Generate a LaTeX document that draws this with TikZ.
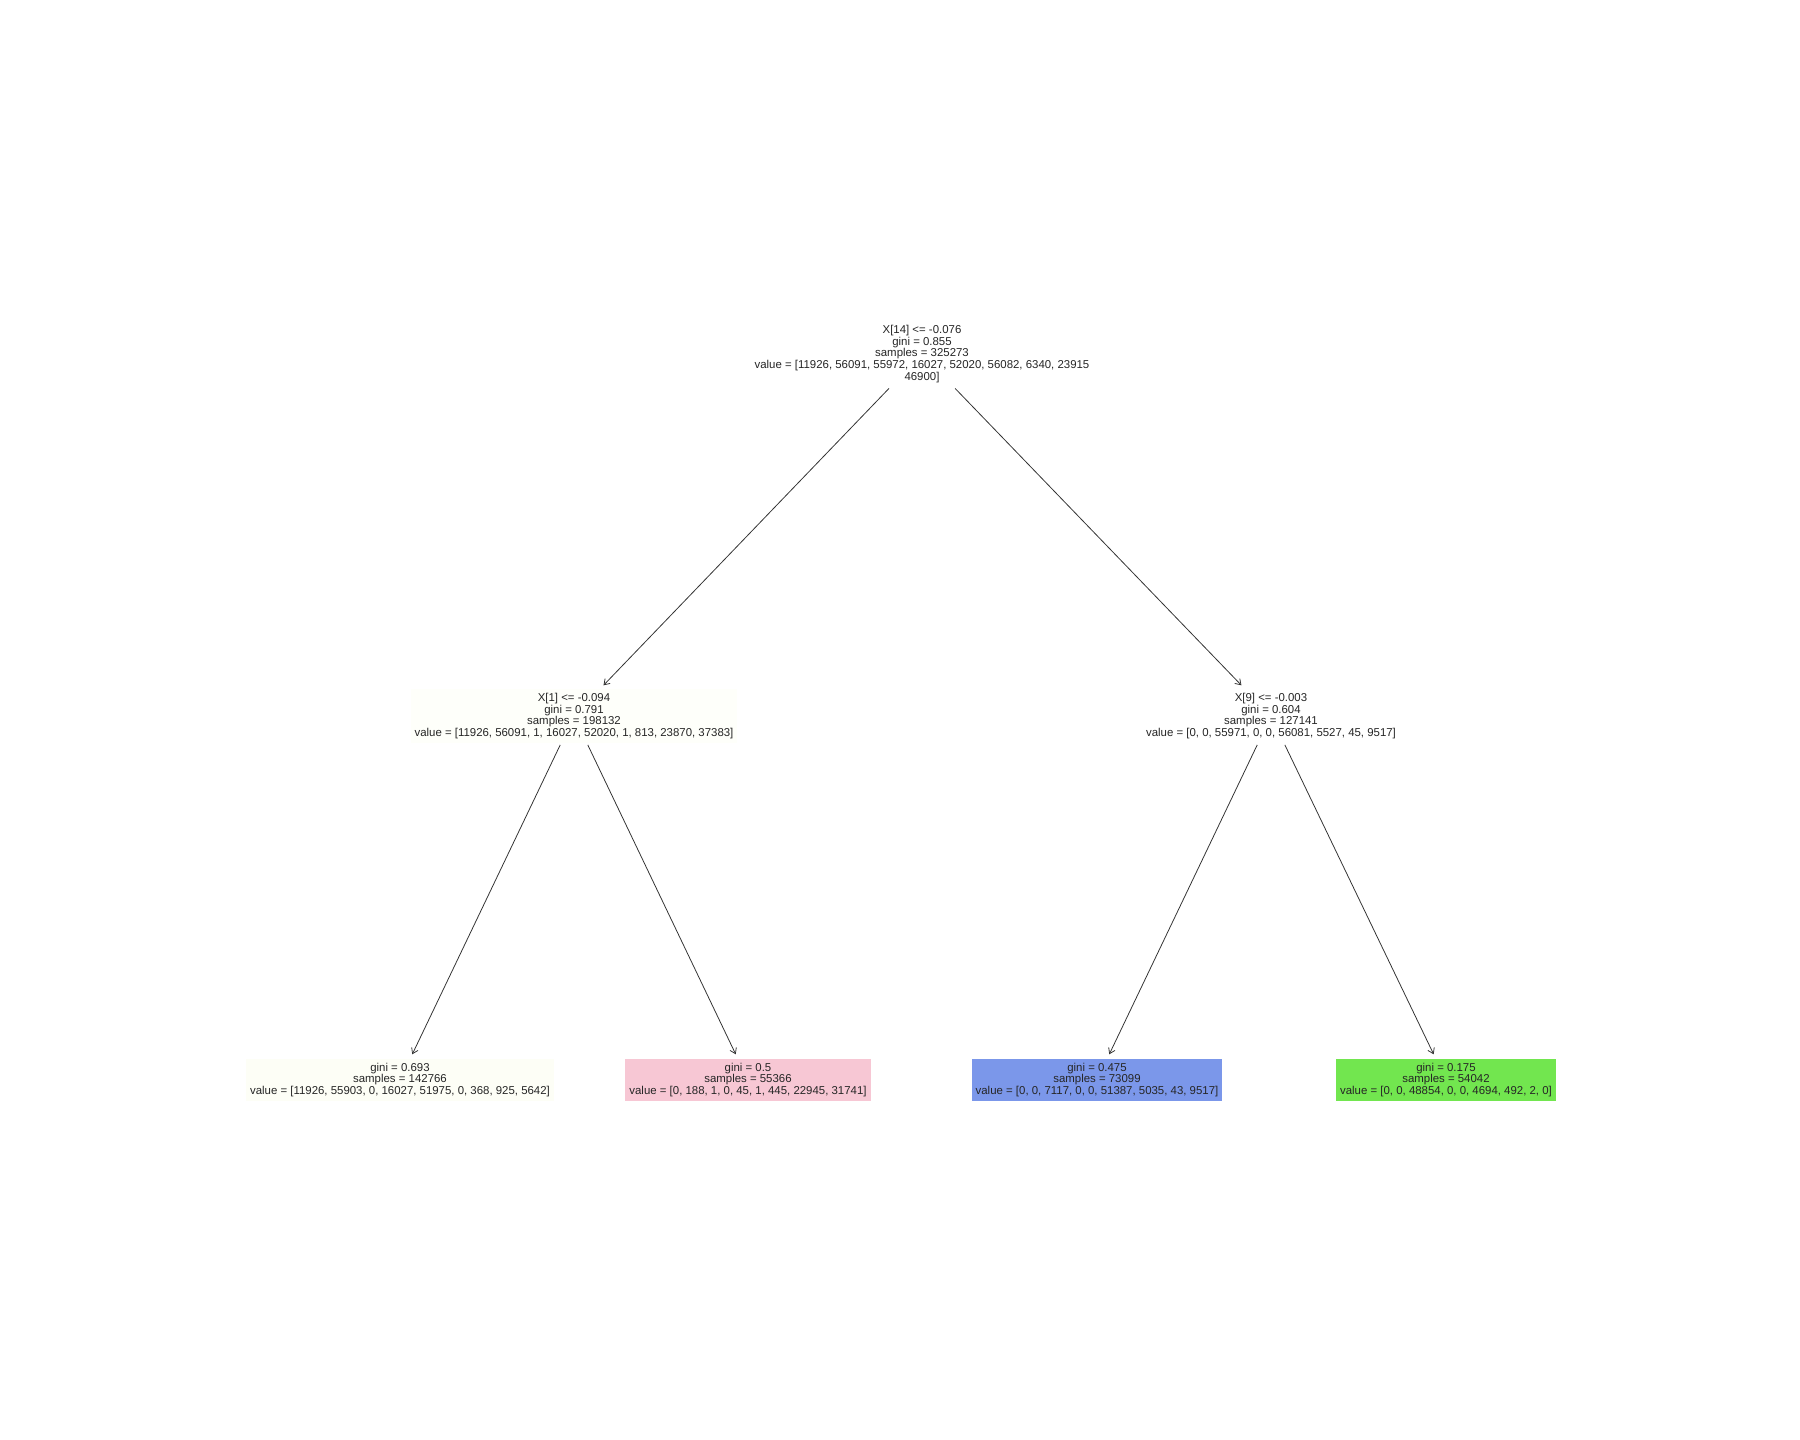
\documentclass[tikz,border=0pt]{standalone}
\usepackage{fontspec}
\setmainfont{Liberation Sans}
\usepackage{xcolor}
\usetikzlibrary{arrows.meta}
\definecolor{inktext}{HTML}{262626}
\definecolor{inkline}{HTML}{333333}
\definecolor{paleleaf}{HTML}{FDFEF6}
\definecolor{palesplit}{HTML}{FEFFFA}
\definecolor{pinkleaf}{HTML}{F7C7D4}
\definecolor{blueleaf}{HTML}{7B97EA}
\definecolor{greenleaf}{HTML}{72E64F}
\tikzset{
  treenode/.style={rectangle, inner xsep=0.08cm, inner ysep=0.075cm,
                   align=center, text=inktext,
                   font=\fontsize{6.5}{6.7}\selectfont},
  rootbox/.style={treenode, fill=white},
  splitbox/.style={treenode, fill=palesplit},
  leafbox/.style={treenode, fill=#1},
  treearr/.style={-{Straight Barb[length=3pt, width=4pt]}, line width=0.45pt,
                  draw=inkline, shorten >=0.1cm, shorten <=0.04cm},
}
\begin{document}
\begin{tikzpicture}[x=0.02cm, y=-0.02cm]

  \useasboundingbox (0,0) rectangle (1800,1440);

  %% Root split
  \node[rootbox] (root) at (922,354)
    {X[14] <= -0.076\\gini = 0.855\\samples = 325273\\value = [11926, 56091, 55972, 16027, 52020, 56082, 6340, 23915\\46900]};

  %% Second level
  \node[splitbox] (left) at (574,716)
    {X[1] <= -0.094\\gini = 0.791\\samples = 198132\\value = [11926, 56091, 1, 16027, 52020, 1, 813, 23870, 37383]};

  \node[rootbox] (right) at (1271,716)
    {X[9] <= -0.003\\gini = 0.604\\samples = 127141\\value = [0, 0, 55971, 0, 0, 56081, 5527, 45, 9517]};

  %% Leaves
  \node[leafbox=paleleaf] (leafa) at (400,1080)
    {gini = 0.693\\samples = 142766\\value = [11926, 55903, 0, 16027, 51975, 0, 368, 925, 5642]};

  \node[leafbox=pinkleaf] (leafb) at (748,1080)
    {gini = 0.5\\samples = 55366\\value = [0, 188, 1, 0, 45, 1, 445, 22945, 31741]};

  \node[leafbox=blueleaf] (leafc) at (1097,1080)
    {gini = 0.475\\samples = 73099\\value = [0, 0, 7117, 0, 0, 51387, 5035, 43, 9517]};

  \node[leafbox=greenleaf] (leafd) at (1446,1080)
    {gini = 0.175\\samples = 54042\\value = [0, 0, 48854, 0, 0, 4694, 492, 2, 0]};

  %% Edges
  \draw[treearr] (root)  -- (left);
  \draw[treearr] (root)  -- (right);
  \draw[treearr] (left)  -- (leafa);
  \draw[treearr] (left)  -- (leafb);
  \draw[treearr] (right) -- (leafc);
  \draw[treearr] (right) -- (leafd);

\end{tikzpicture}
\end{document}
